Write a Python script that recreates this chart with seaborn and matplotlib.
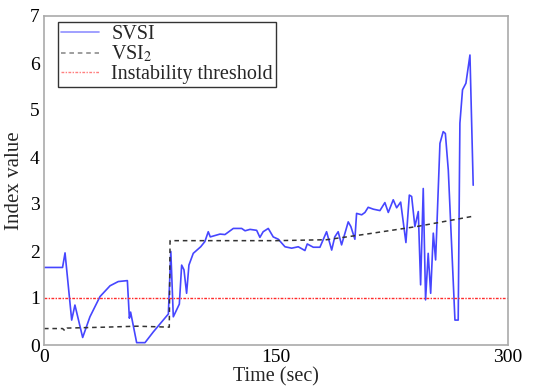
import matplotlib
matplotlib.use("Agg")
import matplotlib.pyplot as plt
import seaborn as sns
import pandas as pd

# SVSI index over time
svsi_t = [0, 12, 13.6, 17.9, 20, 25, 29.7, 36.2, 42.7, 48, 53.9, 55.2, 56, 59.9, 65.3,
          70.7, 80.4, 82, 83.6, 87.5, 89, 90.5, 92.2, 93.7, 96.5, 101.3, 104, 106.2,
          107.5, 113.8, 117, 122.4, 127.8, 130, 133.2, 137.5, 139.6, 141.7, 145, 148.2,
          151.5, 155.8, 160.1, 164.4, 168.7, 170.2, 174.1, 178.4, 182.7, 186, 188, 190.2,
          192.4, 196.7, 198.4, 201, 202.1, 205.4, 207.5, 209.6, 212.9, 217.2, 220.4,
          222.6, 225.8, 228, 230.6, 234, 236.2, 237.7, 239.8, 242, 243.5, 245.2, 246.7,
          248.4, 250, 251.7, 253.2, 256, 258.1, 259.5, 261.4, 265.7, 267.8, 268.9,
          270.6, 272.8, 275.4, 277.5]
svsi_v = [1.65, 1.65, 1.96, 0.53, 0.85, 0.16, 0.6, 1.03, 1.26, 1.35, 1.37, 0.57, 0.7, 0.05, 0.05,
          0.28, 0.66, 1.99, 0.6, 0.87, 1.7, 1.6, 1.1, 1.7, 1.95, 2.09, 2.2, 2.41,
          2.3, 2.36, 2.35, 2.48, 2.48, 2.43, 2.46, 2.44, 2.29, 2.41, 2.48, 2.3,
          2.25, 2.09, 2.06, 2.09, 2.01, 2.15, 2.08, 2.08, 2.41, 2.02, 2.3, 2.41,
          2.13, 2.62, 2.52, 2.25, 2.8, 2.77, 2.82, 2.93, 2.89, 2.86, 3.03,
          2.82, 3.09, 2.92, 3.04, 2.18, 3.19, 3.16, 2.52, 2.84, 1.28, 3.33, 0.96,
          1.95, 1.1, 2.38, 1.81, 4.29, 4.54, 4.5, 3.72, 0.53, 0.53, 4.72,
          5.43, 5.57, 6.17, 3.4]

# VSI2 index over time
vsi2_t = [0, 12, 13.6, 15, 40, 60, 81, 81.5, 150, 182.7, 208.6, 240.9, 277.5]
vsi2_v = [0.35, 0.35, 0.3, 0.36, 0.38, 0.4, 0.38, 2.22, 2.22, 2.24, 2.36, 2.52, 2.74]

threshold = 1.0
x_ticks = [0, 150, 300]
y_ticks = [0, 1, 2, 3, 4, 5, 6, 7]

sns.set_style("white")
plt.rcParams["font.family"] = ["Liberation Serif", "DejaVu Serif"]
plt.rcParams["mathtext.fontset"] = "stix"

fig = plt.figure(figsize=(5.56, 3.87), dpi=100)
ax = fig.add_axes([44 / 556, 1 - 345 / 387, 464 / 556, 329 / 387])

svsi = pd.DataFrame({"t": svsi_t, "v": svsi_v})
vsi2 = pd.DataFrame({"t": vsi2_t, "v": vsi2_v})

sns.lineplot(data=svsi, x="t", y="v", ax=ax, color="#4646ff", lw=1.2,
             label="SVSI", estimator=None, sort=False)
sns.lineplot(data=vsi2, x="t", y="v", ax=ax, color="#333333", lw=1.1,
             dashes=False, label="VSI$_2$", estimator=None, sort=False)
ax.lines[-1].set_dashes((3, 2.5))
ax.axhline(threshold, color="#ff2a2a", lw=1.0, ls=(0, (2, 1, 1, 1)),
           label="Instability threshold")

ax.set_xlim(0, 300)
ax.set_ylim(0, 7)
ax.set_xticks(x_ticks)
ax.set_yticks(y_ticks)
ax.set_xlabel("Time (sec)", fontsize=14.5, labelpad=1)
ax.set_ylabel("Index value", fontsize=15, labelpad=4)
ax.tick_params(axis="both", direction="in", length=3, width=0.8, colors="#999999",
               labelcolor="black", labelsize=14, pad=3)
for s in ax.spines.values():
    s.set_color("#aaaaaa")
    s.set_linewidth(1.2)

leg = ax.legend(loc="upper left", bbox_to_anchor=(0.03, 0.982), fontsize=14.5,
                frameon=True, fancybox=False, borderpad=0.15, labelspacing=0.0,
                handlelength=1.9, handletextpad=0.6, borderaxespad=0)
leg.get_frame().set_edgecolor("black")
leg.get_frame().set_linewidth(1.0)
for h in leg.get_lines():
    h.set_alpha(0.6)

fig.savefig("out.png", dpi=100)
